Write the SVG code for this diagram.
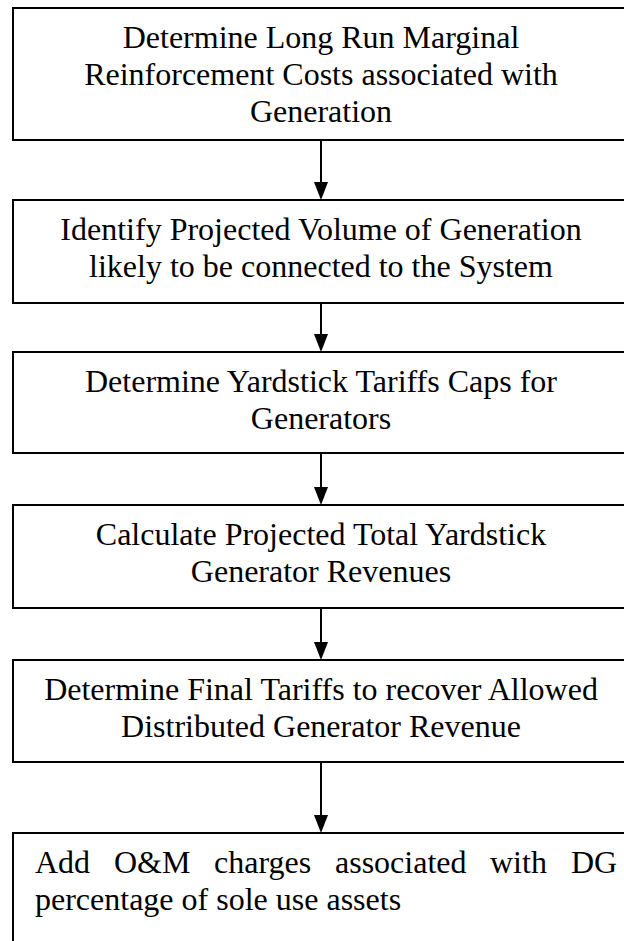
<svg xmlns="http://www.w3.org/2000/svg" width="624" height="941" viewBox="0 0 624 941">
<style>
.box{fill:#fff;stroke:#000;stroke-width:2}
.t{font-family:"Liberation Serif","Times New Roman",serif;font-size:32px;fill:#000}
.c{text-anchor:middle}
.conn{stroke:#000;stroke-width:2;fill:none}
.head{fill:#000}
</style>
<rect width="624" height="941" fill="#fff"/>
<g id="connectors">
<path class="conn" d="M321,140 V182"/>
<polygon class="head" points="314,182 328,182 321,200"/>
<path class="conn" d="M321,303 V334"/>
<polygon class="head" points="314,334 328,334 321,352"/>
<path class="conn" d="M321,453 V487"/>
<polygon class="head" points="314,487 328,487 321,505"/>
<path class="conn" d="M321,608 V642"/>
<polygon class="head" points="314,642 328,642 321,660"/>
<path class="conn" d="M321,762 V815"/>
<polygon class="head" points="314,815 328,815 321,833"/>
</g>
<g id="n1">
<rect class="box" x="13" y="8" width="630" height="132"/>
<text class="t c" x="321" y="48">Determine Long Run Marginal</text>
<text class="t c" x="321" y="85">Reinforcement Costs associated with</text>
<text class="t c" x="321" y="122">Generation</text>
</g>
<g id="n2">
<rect class="box" x="13" y="200" width="630" height="103"/>
<text class="t c" x="321" y="240">Identify Projected Volume of Generation</text>
<text class="t c" x="321" y="277">likely to be connected to the System</text>
</g>
<g id="n3">
<rect class="box" x="13" y="352" width="630" height="101"/>
<text class="t c" x="321" y="392">Determine Yardstick Tariffs Caps for</text>
<text class="t c" x="321" y="429">Generators</text>
</g>
<g id="n4">
<rect class="box" x="13" y="505" width="630" height="103"/>
<text class="t c" x="321" y="545">Calculate Projected Total Yardstick</text>
<text class="t c" x="321" y="582">Generator Revenues</text>
</g>
<g id="n5">
<rect class="box" x="13" y="660" width="630" height="102"/>
<text class="t c" x="321" y="700">Determine Final Tariffs to recover Allowed</text>
<text class="t c" x="321" y="737">Distributed Generator Revenue</text>
</g>
<g id="n6">
<rect class="box" x="13" y="833" width="630" height="130"/>
<text class="t" y="873"><tspan x="35">Add</tspan><tspan x="114">O&amp;M</tspan><tspan x="214">charges</tspan><tspan x="335">associated</tspan><tspan x="490">with</tspan><tspan x="571">DG</tspan></text>
<text class="t" x="35" y="910">percentage of sole use assets</text>
</g>
</svg>
